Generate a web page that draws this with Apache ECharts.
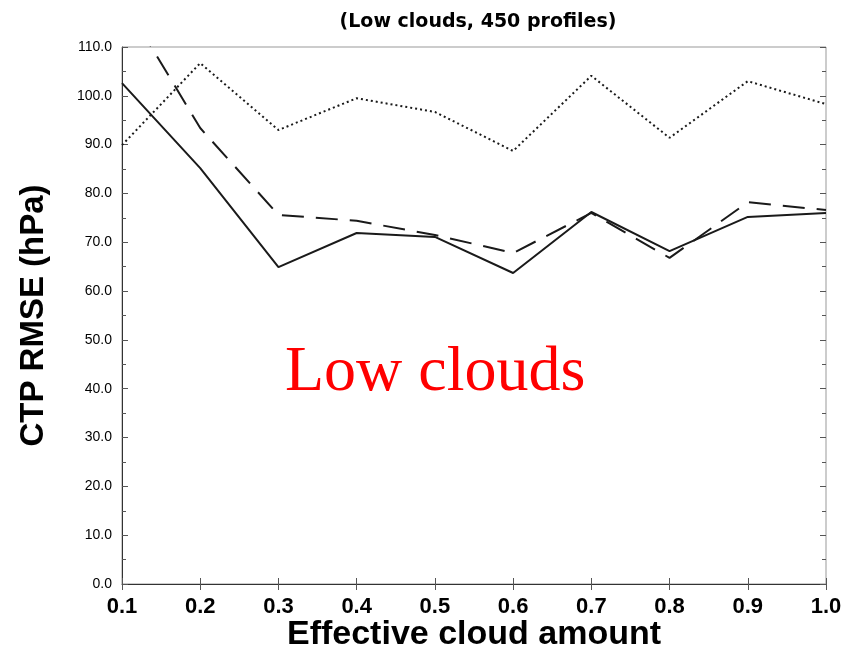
<!DOCTYPE html>
<html><head><meta charset="utf-8">
<script src="https://cdn.jsdelivr.net/npm/echarts@6/dist/echarts.min.js"></script>
<style>html,body{margin:0;padding:0;background:#fff}#c{width:850px;height:651px}</style>
</head><body><div id="c"></div>
<script>
var categories = ['0.1','0.2','0.3','0.4','0.5','0.6','0.7','0.8','0.9','1.0'];
var solidValues = [102.6, 85.2, 64.9, 71.9, 71.1, 63.7, 76.2, 68.2, 75.2, 76.0];
var dashedValues = [120.0, 93.4, 75.6, 74.4, 71.5, 67.8, 76.0, 66.8, 78.2, 76.6];
var dottedValues = [89.9, 106.7, 93.0, 99.5, 96.7, 88.7, 104.1, 91.4, 103.0, 98.3];
var titleText = '(Low clouds, 450 profiles)';
var xName = 'Effective cloud amount';
var yName = 'CTP RMSE (hPa)';
var overlayText = 'Low clouds';

var chart = echarts.init(document.getElementById('c'));
var lineCol = '#1a1a1a';
function mkSeries(data, type, w){
  return {type:'line', data:data, symbol:'none', clip:true, xAxisIndex:0, yAxisIndex:0,
    lineStyle:{color:lineCol, width:w, type:type}};
}
chart.setOption({
  animation:false,
  backgroundColor:'#fff',
  title:{text:titleText, left:473, top:8, textAlign:'center',
    textStyle:{fontFamily:'DejaVu Sans', fontWeight:'bold', fontSize:19, color:'#000'}},
  grid:{left:122, right:24, top:47, bottom:67, show:true, borderColor:'#999', borderWidth:1,
    containLabel:false, outerBoundsMode:'none'},
  xAxis:[{type:'category', data:categories, boundaryGap:false,
      axisLine:{lineStyle:{color:'#333'}}, axisTick:{inside:true, length:6, lineStyle:{color:'#555'}},
      axisLabel:{fontFamily:'Liberation Sans', fontWeight:'bold', fontSize:22, color:'#000', margin:12},
      name:xName, nameLocation:'middle', nameGap:34, nameMoveOverlap:false,
      nameTextStyle:{fontFamily:'Liberation Sans', fontWeight:'bold', fontSize:34, color:'#000'}},
    {type:'category', data:categories, boundaryGap:false, position:'top',
      axisLine:{show:false}, axisTick:{inside:true, length:6, lineStyle:{color:'#555'}},
      axisLabel:{show:false}}],
  yAxis:[{type:'value', min:0, max:110, interval:10,
      axisLine:{show:true, lineStyle:{color:'#333'}},
      axisTick:{show:true, inside:true, length:6, lineStyle:{color:'#555'}},
      minorTick:{show:true, splitNumber:2, length:4, lineStyle:{color:'#555'}},
      splitLine:{show:false},
      axisLabel:{fontFamily:'Liberation Sans', fontSize:14, color:'#000', margin:10,
        formatter:function(v){return v.toFixed(1);}},
      name:yName, nameLocation:'middle', nameGap:72, nameMoveOverlap:false,
      nameTextStyle:{fontFamily:'Liberation Sans', fontWeight:'bold', fontSize:33, color:'#000'}},
    {type:'value', min:0, max:110, interval:10, position:'right',
      axisLine:{show:false}, axisTick:{show:true, inside:true, length:6, lineStyle:{color:'#555'}},
      minorTick:{show:true, splitNumber:2, length:4, lineStyle:{color:'#555'}},
      splitLine:{show:false}, axisLabel:{show:false}}],
  graphic:[{type:'text', left:285, top:341, style:{text:overlayText, fill:'#ff0000',
    font:'64px "Liberation Serif"'}}],
  series:[mkSeries(solidValues,'solid',2), mkSeries(dashedValues,[22,12],2), mkSeries(dottedValues,[2,3],2)]
});
</script></body></html>
